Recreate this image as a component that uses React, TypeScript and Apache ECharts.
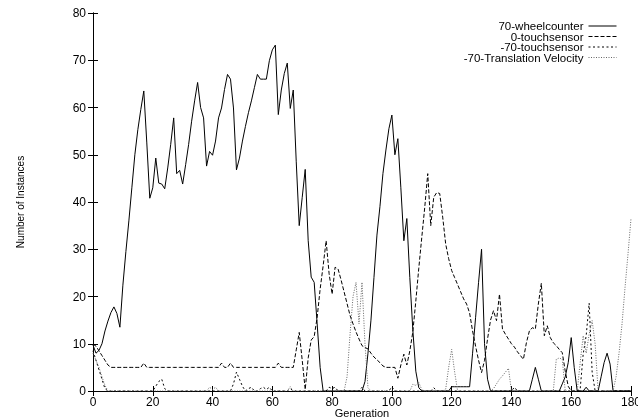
import React, { useEffect, useRef } from 'react';
import * as echarts from 'echarts';

const seriesNames = ['70-wheelcounter', '0-touchsensor', '-70-touchsensor', '-70-Translation Velocity'];

const wheelcounter = [
  9.7, 8, 8.6, 10, 12.7, 14.8, 16.6, 17.8, 16.4, 13.5,
  22.4, 29.5, 36, 43, 50, 55.3, 59.6, 63.5, 52.5, 40.8,
  43, 49.3, 44, 43.8, 42.8, 47.2, 52.2, 57.8, 46, 46.7,
  43.8, 47.9, 52.2, 57.1, 61.4, 65.3, 60, 57.8, 47.6, 50.7,
  49.9, 52.9, 57.8, 59.9, 63.8, 67, 66, 59.9, 46.8, 49.3,
  52.9, 56, 58.9, 61.4, 64.2, 67, 66, 66, 66, 69.9,
  72.2, 73.2, 58.5, 63.7, 67.2, 69.4, 59.8, 63.7, 48.5, 35,
  41, 46.9, 31.8, 24.1, 23, 14.2, 5, 0, 0, 0,
  0, 0, 0, 0, 0, 0, 0, 0, 0, 0,
  0, 2, 8, 15, 24, 33, 39, 46, 51, 55.5,
  58.4, 50, 53.4, 43, 31.8, 36.5, 24, 13, 4.2, 0.7,
  0, 0, 0, 0, 0, 0, 0, 0, 0, 0,
  0.9, 0.9, 0.9, 0.9, 0.9, 0.9, 0.9, 8, 15.5, 23,
  30, 10, 2.5, 0, 0, 0, 0, 0, 0, 0,
  0, 0, 0, 0, 0, 0, 0, 2.5, 5, 2.5,
  0, 0, 0, 0, 0, 0, 0, 1.5, 3, 6,
  11.3, 5, 0, 0, 0, 0.8, 0, 0, 0, 0,
  3, 6, 8, 5.7, 0, 0, 0, 0, 0, 0,
  0,
];

const touch0 = [
  9.9, 9.5, 8.5, 7.5, 6.5, 5.5, 5, 5, 5, 5,
  5, 5, 5, 5, 5, 5, 5, 5.9, 5, 5,
  5, 5, 5, 5, 5, 5, 5, 5, 5, 5,
  5, 5, 5, 5, 5, 5, 5, 5, 5, 5,
  5, 5, 5, 5.9, 5, 5, 5.9, 5, 5, 5,
  5, 5, 5, 5, 5, 5, 5, 5, 5, 5,
  5, 5, 5.9, 5, 5, 5, 5, 5, 8.7, 12.4,
  6.5, 0.3, 7, 10.8, 11.5, 15.6, 21.6, 26.5, 31.8, 24.8,
  20.5, 26.2, 25.8, 23.5, 21, 18.5, 16, 14.2, 12.5, 11,
  9.6, 9.2, 8.9, 8, 7.2, 6.6, 6, 5.3, 5, 5,
  5, 5, 2.7, 5.5, 7.8, 5.5, 8.5, 12.5, 19, 26,
  32.5, 38.9, 46, 35, 41, 42, 41.8, 36.8, 31.1, 28,
  25.5, 24, 22.5, 21, 19.5, 18.4, 16.5, 12.7, 9.5, 6.5,
  3.9, 6.5, 11, 15, 17, 14.9, 20.5, 13.1, 12, 11,
  10, 9.3, 8.3, 7.5, 6.7, 10.2, 12.7, 13.4, 13.1, 18.4,
  22.8, 11.7, 13.8, 11.3, 10.2, 9.6, 8.8, 8.1, 4.2, 1,
  0, 0, 0, 0, 0, 0, 0, 0, 0, 0,
  0, 0, 0, 0, 0, 0, 0, 0, 0, 0,
  0,
];

const touch70 = [
  8.5, 6.5, 4.5, 2.5, 0.5, 0, 0, 0, 0, 0,
  0, 0, 0, 0, 0, 0, 0, 0, 0, 0,
  0, 1, 2, 2.5, 0.5, 0, 0, 0, 0, 0,
  0, 0, 0, 0, 0, 0, 0, 0, 0, 0,
  0, 0, 0, 0, 0, 0, 0, 1.5, 4, 2.5,
  1, 0, 0.5, 0.8, 0, 0, 0.5, 0.8, 0.3, 0.8,
  0, 0, 0, 0, 0, 0, 0.5, 0, 0, 0,
  0, 0, 0, 0, 0, 0, 0, 0, 0, 0.8,
  0.5, 0.8, 0, 0, 0, 0, 0, 0, 0, 0,
  0.8, 0, 0, 0, 0, 0, 0, 0, 0, 0,
  0.9, 0, 0, 0, 0, 0, 0, 0, 0, 0,
  0, 0, 0, 0, 0.7, 0, 0, 0, 0, 0,
  0, 0, 0, 0, 0, 0, 0, 0, 0, 0,
  0, 0, 0, 0, 0, 0, 0, 0, 0, 0,
  0, 0.8, 0, 0, 0, 0, 0, 0, 0, 0,
  0, 0, 0, 0, 0, 0, 0, 0, 0, 0,
  0, 0, 0, 0.4, 7.8, 11.7, 18.6, 4, 0, 0,
  0, 0, 0, 0, 0, 0, 0, 0, 0, 0,
  0,
];

const translationVelocity = [
  8, 6.5, 5, 3, 1.2, 0, 0, 0, 0, 0,
  0, 0, 0, 0, 0, 0, 0, 0, 0, 0,
  0, 0, 0, 0, 0, 0, 0, 0, 0, 0,
  0, 0, 0, 0, 0, 0, 0, 0, 0, 0.8,
  0.3, 0.8, 0, 0, 0, 0, 0, 0, 0, 0,
  0, 0, 0, 0, 0, 0, 0, 0, 0, 0,
  0, 0, 0, 0, 0, 0, 0.9, 0, 0, 0,
  0, 0, 0, 0, 0, 0, 0, 0, 0, 0,
  0, 0, 0, 0, 0, 3, 12, 20, 23, 14.2,
  23, 10, 0.7, 0, 0, 0, 0, 0, 0, 0,
  0, 0, 0, 0, 0, 0, 0, 1.4, 1.2, 1.8,
  0.3, 0, 0, 0, 0, 0, 0, 0, 0.4, 5,
  8.8, 4, 0, 0, 0, 0, 0, 0, 0, 0,
  0, 0, 0, 0, 0.5, 1.5, 2.5, 3.2, 4, 4.8,
  0, 0, 0, 0, 0, 0, 0, 0, 0, 0,
  0, 0, 0, 0, 0, 6.7, 7, 6.7, 0, 0,
  0, 0, 0, 6, 11.7, 8, 12, 14.9, 10, 0,
  0, 0, 0, 0, 0, 3, 8, 14.2, 21.9, 29,
  36.5,
];

const xTicks = { min: 0, max: 180, interval: 20 };
const yTicks = { min: 0, max: 80, interval: 10 };

const FONT = '"Liberation Sans", Arial, Helvetica, sans-serif';

const toPairs = (arr: number[]) => arr.map((v, i) => [i, v]);

export default function App() {
  const ref = useRef<HTMLDivElement>(null);
  useEffect(() => {
    if (!ref.current) return;
    const chart = echarts.init(ref.current, undefined, { renderer: 'svg' });
    const axisLine = { show: true, lineStyle: { color: '#000', width: 1 } };
    const tick = { show: true, inside: true, length: 5, lineStyle: { color: '#000', width: 1 } };
    const styles = [
      { color: '#000', type: 'solid' as any },
      { color: '#000', type: [4, 2] as any },
      { color: '#000', type: [2, 2.5] as any },
      { color: '#666', type: [1, 1.5] as any },
    ];
    const datasets = [wheelcounter, touch0, touch70, translationVelocity];
    chart.setOption({
      animation: false,
      textStyle: { fontFamily: FONT },
      grid: { left: 93, right: 7, top: 13, bottom: 28, outerBoundsMode: 'none' } as any,
      legend: {
        orient: 'vertical',
        right: 16,
        top: 15,
        align: 'right',
        itemWidth: 28,
        itemHeight: 10,
        itemGap: -1.5,
        itemStyle: { opacity: 0, borderWidth: 0 },
        lineStyle: { width: 1 },
        textStyle: { fontSize: 11.5, color: '#000', fontFamily: FONT },
        data: seriesNames,
        selectedMode: false,
      },
      xAxis: [
        {
          type: 'value', ...xTicks, position: 'bottom',
          axisLine, axisTick: tick, splitLine: { show: false },
          axisLabel: { color: '#000', fontSize: 12, margin: 5, fontFamily: FONT },
          name: 'Generation', nameLocation: 'middle', nameGap: 16, nameMoveOverlap: false,
          nameTextStyle: { color: '#000', fontSize: 11, fontFamily: FONT },
        } as any,
        {
          type: 'value', ...xTicks, position: 'top',
          axisLine, axisTick: tick, splitLine: { show: false },
          axisLabel: { show: false },
        },
      ],
      yAxis: [
        {
          type: 'value', ...yTicks, position: 'left',
          axisLine, axisTick: tick, splitLine: { show: false },
          axisLabel: { color: '#000', fontSize: 12, margin: 7, fontFamily: FONT },
          name: 'Number of Instances', nameLocation: 'middle', nameGap: 68, nameMoveOverlap: false,
          nameTextStyle: { color: '#000', fontSize: 10, fontFamily: FONT },
        } as any,
        {
          type: 'value', ...yTicks, position: 'right',
          axisLine, axisTick: tick, splitLine: { show: false },
          axisLabel: { show: false },
        },
      ],
      series: datasets.map((d, i) => ({
        name: seriesNames[i],
        type: 'line',
        xAxisIndex: 0,
        yAxisIndex: 0,
        data: toPairs(d),
        symbol: 'none',
        color: styles[i].color,
        lineStyle: { width: 1, color: styles[i].color, type: styles[i].type },
        emphasis: { disabled: true },
        silent: true,
        z: 2 + i,
      })),
    });
    return () => chart.dispose();
  }, []);
  return <div ref={ref} style={{ position: 'fixed', left: 0, top: 0, width: 638, height: 419 }} />;
}
